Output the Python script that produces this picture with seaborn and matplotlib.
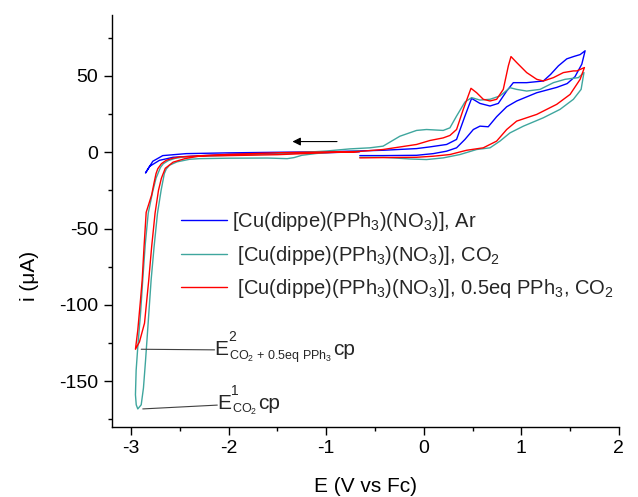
#!/usr/bin/env python3
"""CV of [Cu(dippe)(PPh3)(NO3)] under Ar / CO2 / CO2 + PPh3."""

import matplotlib
matplotlib.use("Agg")
import matplotlib.pyplot as plt
from matplotlib.ticker import MultipleLocator
import pandas as pd
import seaborn as sns

# potentials (V vs Fc) and currents (uA), one closed scan per condition
E_ar = [-0.66, -1.0, -1.5, -2.0, -2.27, -2.57, -2.71, -2.81, -2.853,
        -2.778, -2.676, -2.435, -2.0, -1.48, -1.0, -0.759,
        -0.417, -0.074, 0.062, 0.234, 0.336, 0.422, 0.490, 0.576, 0.679, 0.764,
        0.850, 0.918, 1.055, 1.226, 1.30, 1.38, 1.466, 1.54, 1.603, 1.654,
        1.62, 1.55, 1.47, 1.363, 1.158, 0.953, 0.850, 0.747, 0.661, 0.576,
        0.508, 0.422, 0.336, 0.234, 0.097, -0.074, -0.417, -0.656]
i_ar = [0.3, -0.3, -0.9, -1.5, -2.2, -3.3, -5.3, -9.2, -13.6,
        -5.9, -2.2, -0.9, -0.4, 0.0, 0.3, 0.7,
        1.3, 2.4, 3.5, 5.1, 8.4, 23.7, 35.3, 32.0, 30.3, 32.0,
        40.1, 45.6, 45.6, 46.7, 51.0, 56.6, 61.2, 62.8, 64.0, 66.5,
        57.7, 49.5, 45.0, 42.5, 39.0, 33.6, 29.8, 23.3, 16.7, 17.1,
        14.9, 8.4, 2.9, 0.7, -0.9, -2.0, -2.2, -2.2]

E_co2 = [-0.66, -0.9, -1.1, -1.25, -1.33, -1.40, -1.6, -2.0, -2.3,
         -2.40, -2.53, -2.607, -2.64, -2.66, -2.692, -2.73, -2.765, -2.795,
         -2.829, -2.853, -2.874, -2.897, -2.932,
         -2.948, -2.956, -2.949, -2.932, -2.904, -2.881, -2.855, -2.825, -2.78,
         -2.745, -2.70, -2.67, -2.62, -2.55, -2.45, -2.0, -1.48, -1.0, -0.759,
         -0.553, -0.417, -0.245, -0.074, 0.028, 0.199, 0.268, 0.336, 0.422,
         0.490, 0.576, 0.679, 0.781, 0.884, 0.952, 1.055, 1.192, 1.329, 1.449,
         1.585, 1.642,
         1.613, 1.534, 1.397, 1.226, 1.021, 0.884, 0.781, 0.679, 0.542, 0.371,
         0.199, 0.028, -0.143, -0.417, -0.656]
i_co2 = [0.8, 0.2, -0.8, -2.0, -3.5, -4.2, -3.8, -3.9, -4.2,
         -4.6, -6.3, -8.5, -11.0, -14.0, -24.6, -40.0, -62.0, -83.5,
         -114.9, -136.9, -154.5, -165.5, -168.2,
         -165.5, -158.9, -143.0, -127.6, -105.7, -83.5, -60.0, -40.0, -26.0,
         -17.0, -10.0, -7.5, -5.5, -4.0, -3.0, -2.0, -1.0, 0.8, 2.2,
         2.9, 4.0, 10.5, 14.3, 14.9, 14.3, 16.0, 23.7, 32.9,
         35.8, 34.2, 34.7, 36.9, 42.3, 41.2, 40.1, 41.2, 45.6, 47.8,
         48.9, 52.2,
         41.2, 34.7, 28.1, 22.6, 17.1, 12.7, 7.3, 2.9, 1.8, -1.5,
         -3.7, -4.8, -4.4, -3.3, -3.3]

E_pph3 = [-0.66, -1.0, -1.5, -2.0, -2.30, -2.45, -2.57, -2.65, -2.69, -2.72,
          -2.755, -2.79, -2.82, -2.84, -2.863, -2.915, -2.956,
          -2.932, -2.904, -2.887, -2.868, -2.846, -2.79, -2.765, -2.745, -2.727,
          -2.69, -2.641, -2.58, -2.504, -2.093, -1.477, -1.0, -0.759,
          -0.417, -0.074, 0.063, 0.199, 0.268, 0.336, 0.405, 0.484, 0.542, 0.610,
          0.679, 0.747, 0.815, 0.867, 0.894, 0.952, 1.055, 1.158, 1.226, 1.329,
          1.431, 1.534, 1.569, 1.647,
          1.603, 1.500, 1.363, 1.158, 0.952, 0.850, 0.747, 0.610, 0.439, 0.268,
          0.097, -0.074, -0.417, -0.656]
i_pph3 = [0.5, -0.3, -1.6, -2.2, -2.5, -4.2, -6.5, -10.5, -17.0, -25.0,
          -40.0, -62.0, -84.0, -97.0, -112.0, -124.3, -129.1,
          -116.6, -96.6, -83.7, -62.0, -39.4, -28.0, -20.0, -14.0, -10.8,
          -7.5, -5.3, -4.0, -3.1, -1.6, -0.3, 0.2, 0.0,
          1.8, 5.1, 7.7, 9.4, 11.0, 14.9, 28.1, 41.9, 39.0, 34.7,
          33.6, 34.7, 41.2, 56.6, 62.7, 58.8, 52.2, 47.8, 46.7, 48.9,
          52.2, 53.3, 53.3, 55.5,
          47.8, 37.9, 31.4, 24.8, 20.4, 14.9, 7.3, 2.9, 1.3, -1.5,
          -2.6, -3.3, -3.5, -3.7]

labels = [
    "[Cu(dippe)(PPh$_3$)(NO$_3$)], Ar",
    " [Cu(dippe)(PPh$_3$)(NO$_3$)], CO$_2$",
    " [Cu(dippe)(PPh$_3$)(NO$_3$)], 0.5eq PPh$_3$, CO$_2$",
]
colors = ["#0000ff", "#3fa69e", "#ff0000"]

# catalytic peak labels: tip point, end of leader line, text baseline, sup, sub
peak2 = ((-2.897, -129.1), (-2.145, -129.5), (-2.145, -132.6), "2",
         "CO$_2$ + 0.5eq PPh$_3$")
peak1 = ((-2.881, -168.2), (-2.117, -165.7), (-2.117, -168.0), "1", "CO$_2$")


def peak_label(ax, tip, end, base, sup, sub) -> None:
    ax.plot([tip[0], end[0]], [tip[1], end[1]], color="#404040", lw=0.8)
    t_e = ax.text(base[0], base[1], "E", fontsize=15, ha="left", va="baseline")
    ax.annotate(sup, xy=(1, base[1]), xycoords=(t_e, "data"),
                xytext=(-0.5, 9.5), textcoords="offset points",
                fontsize=10, ha="left", va="baseline")
    t_sub = ax.annotate(sub, xy=(1, base[1]), xycoords=(t_e, "data"),
                        xytext=(0.5, -2.9), textcoords="offset points",
                        fontsize=9, ha="left", va="baseline")
    ax.annotate("cp", xy=(1, base[1]), xycoords=(t_sub, "data"),
                xytext=(0.3, 0), textcoords="offset points",
                fontsize=15, ha="left", va="baseline")


def main() -> None:
    sns.set_theme(style="ticks")
    plt.rcParams["font.family"] = ["Liberation Sans", "DejaVu Sans"]
    plt.rcParams["mathtext.fontset"] = "custom"
    plt.rcParams["mathtext.rm"] = "Liberation Sans"
    plt.rcParams["mathtext.it"] = "Liberation Sans:italic"
    plt.rcParams["mathtext.bf"] = "Liberation Sans:bold"
    plt.rcParams["mathtext.default"] = "regular"
    plt.rcParams["axes.unicode_minus"] = False

    fig = plt.figure(figsize=(6.38, 4.97), dpi=100)
    ax = fig.add_axes([0.175, 0.141, 0.795, 0.829])

    runs = [(E_ar, i_ar), (E_co2, i_co2), (E_pph3, i_pph3)]
    for (E, cur), color, label in zip(runs, colors, labels):
        df = pd.DataFrame({"E": E, "i": cur})
        sns.lineplot(data=df, x="E", y="i", sort=False, estimator=None,
                     color=color, lw=1.0, label=label, ax=ax)

    ax.set_xlim(-3.2, 2.0)
    ax.set_ylim(-180, 90)
    ax.xaxis.set_major_locator(MultipleLocator(1))
    ax.xaxis.set_minor_locator(MultipleLocator(0.5))
    ax.yaxis.set_major_locator(MultipleLocator(50))
    ax.yaxis.set_minor_locator(MultipleLocator(25))
    ax.tick_params(which="major", direction="out", length=6, width=1,
                   labelsize=14, color="black", labelcolor="black")
    ax.tick_params(which="minor", direction="out", length=3, width=1, color="black")
    sns.despine(ax=ax)
    for sp in ("left", "bottom"):
        ax.spines[sp].set_color("black")
        ax.spines[sp].set_linewidth(1.0)

    ax.set_xlabel("E (V vs Fc)", fontsize=15, color="black", labelpad=14)
    ax.set_ylabel("i (μA)", fontsize=15, color="black")
    ax.yaxis.set_label_coords(-0.143, 0.366)

    ax.legend(loc="upper left", bbox_to_anchor=(0.12, 0.545), frameon=False,
              fontsize=14.5, handlelength=2.3, handletextpad=0.25,
              labelspacing=0.52, borderaxespad=0)

    # scan direction
    ax.annotate("", xy=(-1.375, 7), xytext=(-0.861, 7),
                arrowprops=dict(arrowstyle="-|>", color="black", lw=0.8,
                                mutation_scale=12))

    for tip, end, base, sup, sub in (peak2, peak1):
        peak_label(ax, tip, end, base, sup, sub)

    fig.savefig("out.png", dpi=100)
    plt.close(fig)


if __name__ == "__main__":
    main()
